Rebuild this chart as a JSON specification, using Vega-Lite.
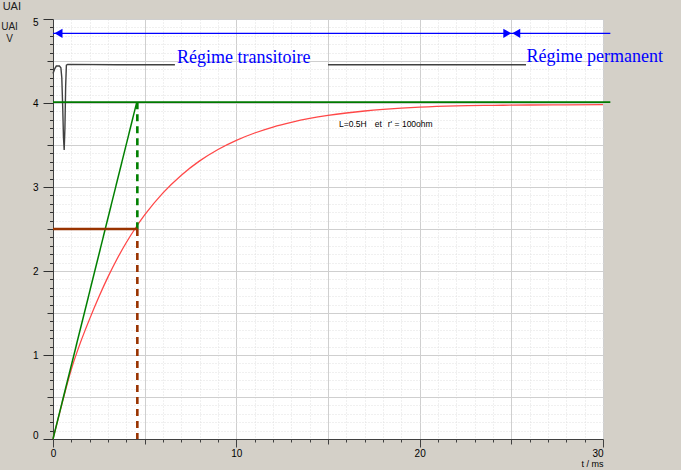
{
  "$schema": "https://vega.github.io/schema/vega-lite/v6.json",
  "width": 550,
  "height": 420,
  "autosize": {"type": "none"},
  "padding": {"left": 53, "top": 19, "right": 78, "bottom": 31},
  "background": "#d4d0c8",
  "view": {"fill": "white", "stroke": null},
  "title": {"text": "UAI", "anchor": "start", "frame": "bounds", "fontSize": 11, "fontWeight": "normal", "font": "Liberation Sans", "color": "#202020", "offset": 5, "dx": 2},
  "config": {"font": "Liberation Sans"},
  "encoding": {
    "x": {"field": "t", "type": "quantitative", "scale": {"domain": [0, 30], "nice": false, "zero": false},
      "axis": {
        "values": [0,1,2,3,4,5,6,7,8,9,10,11,12,13,14,15,16,17,18,19,20,21,22,23,24,25,26,27,28,29,30],
        "format": ".0f",
        "grid": true,
        "gridDash": {"condition": {"test": "datum.value % 5 === 0", "value": []}, "value": [1, 2]},
        "gridColor": {"condition": {"test": "datum.value % 5 === 0", "value": "#cfcfcf"}, "value": "#e0e0e0"},
        "tickSize": {"condition": [{"test": "datum.value % 10 === 0", "value": 8}, {"test": "datum.value % 5 === 0", "value": 5}], "value": 3},
        "tickColor": "#404040",
        "domainColor": "#404040",
        "labelExpr": "datum.value % 10 === 0 ? datum.label : ''",
        "labelAlign": {"condition": {"test": "datum.value === 30", "value": "right"}, "value": "center"},
        "labelFlush": false,
        "labelOverlap": false,
        "labelBound": false,
        "labelFontSize": 10,
        "labelColor": "#000000",
        "labelPadding": 1,
        "title": "t / ms",
        "titleAnchor": "end",
        "titleFontSize": 9,
        "titleFontWeight": "normal",
        "titleColor": "#000000",
        "titlePadding": 1
      }},
    "y": {"field": "v", "type": "quantitative", "scale": {"domain": [0, 5], "nice": false, "zero": false},
      "axis": {
        "values": [0,0.1,0.2,0.3,0.4,0.5,0.6,0.7,0.8,0.9,1,1.1,1.2,1.3,1.4,1.5,1.6,1.7,1.8,1.9,2,2.1,2.2,2.3,2.4,2.5,2.6,2.7,2.8,2.9,3,3.1,3.2,3.3,3.4,3.5,3.6,3.7,3.8,3.9,4,4.1,4.2,4.3,4.4,4.5,4.6,4.7,4.8,4.9,5],
        "format": ".0f",
        "grid": true,
        "gridDash": {"condition": {"test": "round(datum.value * 10) % 5 === 0", "value": []}, "value": [1, 2]},
        "gridColor": {"condition": {"test": "round(datum.value * 10) % 5 === 0", "value": "#cfcfcf"}, "value": "#e0e0e0"},
        "tickSize": {"condition": [{"test": "datum.value % 1 === 0", "value": 10}, {"test": "round(datum.value * 10) % 5 === 0", "value": 6}], "value": 3.5},
        "tickColor": "#303030",
        "domainColor": "#404040",
        "labelExpr": "datum.value % 1 === 0 ? datum.label : ''",
        "labelOffset": {"condition": [{"test": "datum.value === 5", "value": 3}, {"test": "datum.value === 0", "value": -4}], "value": 0},
        "labelOverlap": false,
        "labelBound": false,
        "labelFontSize": 10,
        "labelColor": "#000000",
        "labelPadding": 5,
        "title": ["UAI", "V"],
        "titleAngle": 0,
        "titleAlign": "center",
        "titleBaseline": "top",
        "titleX": -44,
        "titleY": 2,
        "titleFontSize": 10,
        "titleFontWeight": "normal",
        "titleColor": "#202020",
        "titleLineHeight": 12
      }}
  },
  "layer": [
    {
      "mark": {"type": "rect", "fill": "white", "clip": false},
      "encoding": {"x": {"datum": 30.05}, "x2": {"datum": 40}, "y": {"datum": -1}, "y2": {"datum": 7}}
    },
    {
      "data": {"values": [
        {"t": 0, "v": 0}, {"t": 0.5, "v": 0.43}, {"t": 1, "v": 0.83}, {"t": 1.5, "v": 1.15}, {"t": 2, "v": 1.43},
        {"t": 2.5, "v": 1.69}, {"t": 3, "v": 1.93}, {"t": 3.5, "v": 2.146}, {"t": 4, "v": 2.339}, {"t": 4.5, "v": 2.512},
        {"t": 5, "v": 2.667}, {"t": 6, "v": 2.93}, {"t": 7, "v": 3.141}, {"t": 8, "v": 3.311}, {"t": 9, "v": 3.447},
        {"t": 10, "v": 3.556}, {"t": 11, "v": 3.643}, {"t": 12, "v": 3.714}, {"t": 13, "v": 3.77}, {"t": 14, "v": 3.816},
        {"t": 15, "v": 3.852}, {"t": 16, "v": 3.881}, {"t": 17, "v": 3.905}, {"t": 18, "v": 3.924}, {"t": 19, "v": 3.939},
        {"t": 20, "v": 3.951}, {"t": 22, "v": 3.966}, {"t": 24, "v": 3.972}, {"t": 26, "v": 3.976}, {"t": 28, "v": 3.978},
        {"t": 30, "v": 3.98}
      ]},
      "mark": {"type": "line", "color": "#ff4848", "strokeWidth": 1.3, "interpolate": "monotone"}
    },
    {
      "data": {"values": [
        {"t": 0, "v": 4.35, "seg": "a"}, {"t": 0.1, "v": 4.41, "seg": "a"}, {"t": 0.18, "v": 4.44, "seg": "a"},
        {"t": 0.35, "v": 4.44, "seg": "a"}, {"t": 0.43, "v": 4.42, "seg": "a"}, {"t": 0.48, "v": 4.3, "seg": "a"},
        {"t": 0.53, "v": 3.95, "seg": "a"}, {"t": 0.57, "v": 3.6, "seg": "a"}, {"t": 0.61, "v": 3.44, "seg": "a"},
        {"t": 0.65, "v": 3.7, "seg": "a"}, {"t": 0.69, "v": 4.2, "seg": "a"}, {"t": 0.73, "v": 4.45, "seg": "a"},
        {"t": 0.8, "v": 4.46, "seg": "a"}, {"t": 3.5, "v": 4.455, "seg": "a"}, {"t": 6.65, "v": 4.455, "seg": "a"},
        {"t": 15.0, "v": 4.455, "seg": "b"}, {"t": 25.8, "v": 4.455, "seg": "b"}
      ]},
      "mark": {"type": "line", "color": "#404040", "strokeWidth": 1.4},
      "encoding": {"detail": {"field": "seg", "type": "nominal"}}
    },
    {
      "data": {"values": [{"t": 0, "v": 4.01}, {"t": 30.4, "v": 4.01}]},
      "mark": {"type": "line", "color": "#007a00", "strokeWidth": 1.8}
    },
    {
      "data": {"values": [{"t": 0, "v": 0}, {"t": 4.57, "v": 4.01}]},
      "mark": {"type": "line", "color": "#008000", "strokeWidth": 1.5}
    },
    {
      "data": {"values": [{"t": 4.6, "v": 4.01}, {"t": 4.6, "v": 2.5}]},
      "mark": {"type": "line", "color": "#008000", "strokeWidth": 2.6, "strokeDash": [7, 5]}
    },
    {
      "data": {"values": [{"t": 0, "v": 2.5}, {"t": 4.62, "v": 2.5}]},
      "mark": {"type": "line", "color": "#993300", "strokeWidth": 2.7}
    },
    {
      "data": {"values": [{"t": 4.6, "v": 2.5}, {"t": 4.6, "v": 0}]},
      "mark": {"type": "line", "color": "#993300", "strokeWidth": 2.6, "strokeDash": [7, 5]}
    },
    {
      "data": {"values": [{"t": 0, "v": 4.83}, {"t": 30.4, "v": 4.83}]},
      "mark": {"type": "line", "color": "#0000ff", "strokeWidth": 1.3}
    },
    {
      "data": {"values": [
        {"t": 0.3, "v": 4.83, "dir": "left"}, {"t": 24.78, "v": 4.83, "dir": "right"}, {"t": 25.27, "v": 4.83, "dir": "left"}
      ]},
      "mark": {"type": "point", "filled": true, "color": "#0000ff", "opacity": 1, "size": 85},
      "encoding": {"shape": {"field": "dir", "type": "nominal", "scale": {"domain": ["left", "right"], "range": ["triangle-left", "triangle-right"]}, "legend": null}}
    },
    {
      "data": {"values": [
        {"t": 6.77, "v": 4.473, "label": "Régime transitoire"},
        {"t": 25.83, "v": 4.485, "label": "Régime permanent"}
      ]},
      "mark": {"type": "text", "font": "Liberation Serif", "fontSize": 18, "color": "#0000ff", "align": "left", "baseline": "alphabetic"},
      "encoding": {"text": {"field": "label", "type": "nominal"}}
    },
    {
      "data": {"values": [
        {"t": 15.6, "v": 3.717, "label": "L=0.5H"},
        {"t": 17.55, "v": 3.717, "label": "et"},
        {"t": 18.26, "v": 3.717, "label": "r' = 100ohm"}
      ]},
      "mark": {"type": "text", "font": "Liberation Sans", "fontSize": 8.5, "color": "#000000", "align": "left", "baseline": "alphabetic"},
      "encoding": {"text": {"field": "label", "type": "nominal"}}
    }
  ]
}
